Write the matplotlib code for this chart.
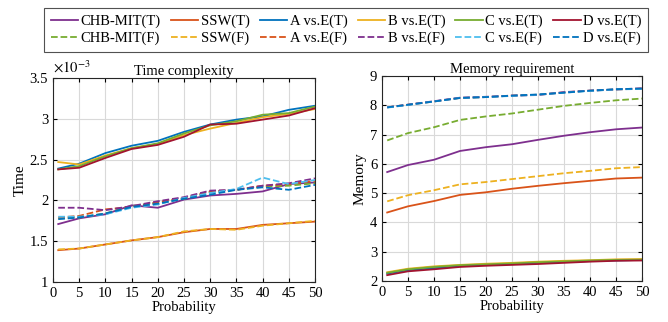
import matplotlib.pyplot as plt
from matplotlib.ticker import FuncFormatter

plt.rcParams['font.family'] = ['Liberation Serif', 'DejaVu Serif']
plt.rcParams['mathtext.fontset'] = 'stix'

# eixo x comum
prob = [1, 5, 10, 15, 20, 25, 30, 35, 40, 45, 50]

# tempo (x 10^-3)
t_chb_T = [1.71, 1.78, 1.83, 1.94, 1.91, 2.01, 2.06, 2.08, 2.11, 2.20, 2.22]
t_ssw_T = [1.39, 1.41, 1.46, 1.51, 1.55, 1.61, 1.65, 1.65, 1.70, 1.72, 1.74]
t_a_T = [2.39, 2.45, 2.58, 2.67, 2.73, 2.84, 2.93, 2.99, 3.03, 3.11, 3.16]
t_b_T = [2.47, 2.44, 2.55, 2.64, 2.69, 2.80, 2.88, 2.95, 3.02, 3.06, 3.12]
t_c_T = [2.38, 2.42, 2.54, 2.64, 2.70, 2.82, 2.92, 2.97, 3.05, 3.07, 3.15]
t_d_T = [2.38, 2.40, 2.52, 2.63, 2.68, 2.78, 2.93, 2.94, 2.99, 3.04, 3.13]
t_chb_F = [1.78, 1.79, 1.84, 1.93, 1.97, 2.02, 2.10, 2.13, 2.17, 2.18, 2.21]
t_ssw_F = [1.40, 1.41, 1.46, 1.51, 1.55, 1.62, 1.65, 1.64, 1.69, 1.72, 1.75]
t_a_F = [1.79, 1.81, 1.89, 1.92, 1.98, 2.03, 2.11, 2.13, 2.18, 2.20, 2.24]
t_b_F = [1.91, 1.91, 1.88, 1.93, 1.99, 2.04, 2.12, 2.13, 2.18, 2.21, 2.27]
t_c_F = [1.80, 1.80, 1.83, 1.91, 1.95, 2.03, 2.09, 2.14, 2.28, 2.20, 2.25]
t_d_F = [1.77, 1.79, 1.84, 1.92, 1.96, 2.02, 2.07, 2.13, 2.16, 2.13, 2.19]

# memoria
m_chb_T = [5.72, 5.96, 6.14, 6.44, 6.57, 6.67, 6.82, 6.96, 7.08, 7.18, 7.24]
m_ssw_T = [4.34, 4.55, 4.73, 4.94, 5.03, 5.15, 5.25, 5.34, 5.42, 5.50, 5.53]
m_a_T = [2.25, 2.37, 2.44, 2.52, 2.55, 2.58, 2.62, 2.65, 2.68, 2.70, 2.72]
m_b_T = [2.30, 2.42, 2.50, 2.55, 2.59, 2.62, 2.66, 2.69, 2.71, 2.74, 2.75]
m_c_T = [2.28, 2.40, 2.48, 2.54, 2.57, 2.60, 2.64, 2.67, 2.70, 2.72, 2.73]
m_d_T = [2.20, 2.33, 2.40, 2.48, 2.52, 2.55, 2.58, 2.62, 2.66, 2.69, 2.70]
m_chb_F = [6.80, 7.05, 7.25, 7.50, 7.62, 7.72, 7.85, 7.98, 8.08, 8.17, 8.23]
m_ssw_F = [4.72, 4.93, 5.10, 5.30, 5.38, 5.48, 5.58, 5.68, 5.76, 5.85, 5.89]
m_a_F = [7.93, 8.02, 8.13, 8.25, 8.28, 8.33, 8.36, 8.44, 8.50, 8.54, 8.57]
m_b_F = [7.93, 8.02, 8.14, 8.26, 8.29, 8.33, 8.35, 8.45, 8.50, 8.54, 8.58]
m_c_F = [7.92, 8.01, 8.13, 8.25, 8.28, 8.32, 8.36, 8.43, 8.49, 8.54, 8.56]
m_d_F = [7.93, 8.02, 8.13, 8.25, 8.28, 8.33, 8.37, 8.43, 8.50, 8.55, 8.57]

nomes = ['CHB-MIT', 'SSW', 'A vs.E', 'B vs.E', 'C vs.E', 'D vs.E']
cor_T = ['#7E2F8E', '#D95319', '#0072BD', '#EDB120', '#77AC30', '#A2142F']
cor_F = ['#77AC30', '#EDB120', '#D95319', '#7E2F8E', '#4DBEEE', '#0072BD']

tempo_T = [t_chb_T, t_ssw_T, t_a_T, t_b_T, t_c_T, t_d_T]
tempo_F = [t_chb_F, t_ssw_F, t_a_F, t_b_F, t_c_F, t_d_F]
mem_T = [m_chb_T, m_ssw_T, m_a_T, m_b_T, m_c_T, m_d_T]
mem_F = [m_chb_F, m_ssw_F, m_a_F, m_b_F, m_c_F, m_d_F]

fig = plt.figure(figsize=(6.68, 3.22), dpi=100)
ax1 = fig.add_axes([53 / 668, 1 - 282 / 322, 262 / 668, 204 / 322])
ax2 = fig.add_axes([382 / 668, 1 - 281 / 322, 260 / 668, 205 / 322])

handles = []
for i in range(6):
    h1, = ax1.plot(prob, tempo_T[i], color=cor_T[i], lw=1.3, label=nomes[i] + '(T)')
    h2, = ax1.plot(prob, tempo_F[i], color=cor_F[i], lw=1.3, ls='--', label=nomes[i] + '(F)')
    ax2.plot(prob, mem_T[i], color=cor_T[i], lw=1.3)
    ax2.plot(prob, mem_F[i], color=cor_F[i], lw=1.3, ls='--')
    handles += [h1, h2]

for ax in (ax1, ax2):
    ax.set_xlim(0, 50)
    ax.set_xticks(range(0, 51, 5))
    ax.grid(True, color='#d9d9d9', lw=0.8)
    ax.set_axisbelow(True)
    ax.tick_params(direction='in', top=True, right=True, labelsize=10.5, length=3)
    ax.set_xlabel('Probability', fontsize=10.5, labelpad=1)
    for s in ax.spines.values():
        s.set_color('#262626')

ax1.set_ylim(1, 3.5)
ax1.yaxis.set_major_formatter(FuncFormatter(lambda v, p: '%g' % v))
ax1.set_ylabel('Time', fontsize=11, labelpad=2)
ax1.set_title('Time complexity', fontsize=10.5, pad=2)
ax1.text(0, 1.01, r'$\times10^{-3}$', transform=ax1.transAxes, fontsize=10.5, va='bottom')

ax2.set_ylim(2, 9)
ax2.set_ylabel('Memory', fontsize=11, labelpad=2)
ax2.set_title('Memory requirement', fontsize=10.5, pad=2)

leg = fig.legend(handles=handles, ncol=6, loc='center', bbox_to_anchor=(346 / 668, 1 - 30 / 322),
                 fontsize=10.5, frameon=True, fancybox=False, edgecolor='#262626',
                 handlelength=1.9, handletextpad=0.15, columnspacing=0.7, borderpad=0.45,
                 labelspacing=0.25, borderaxespad=0)
leg.get_frame().set_linewidth(0.8)

fig.savefig('out.png', dpi=100)
